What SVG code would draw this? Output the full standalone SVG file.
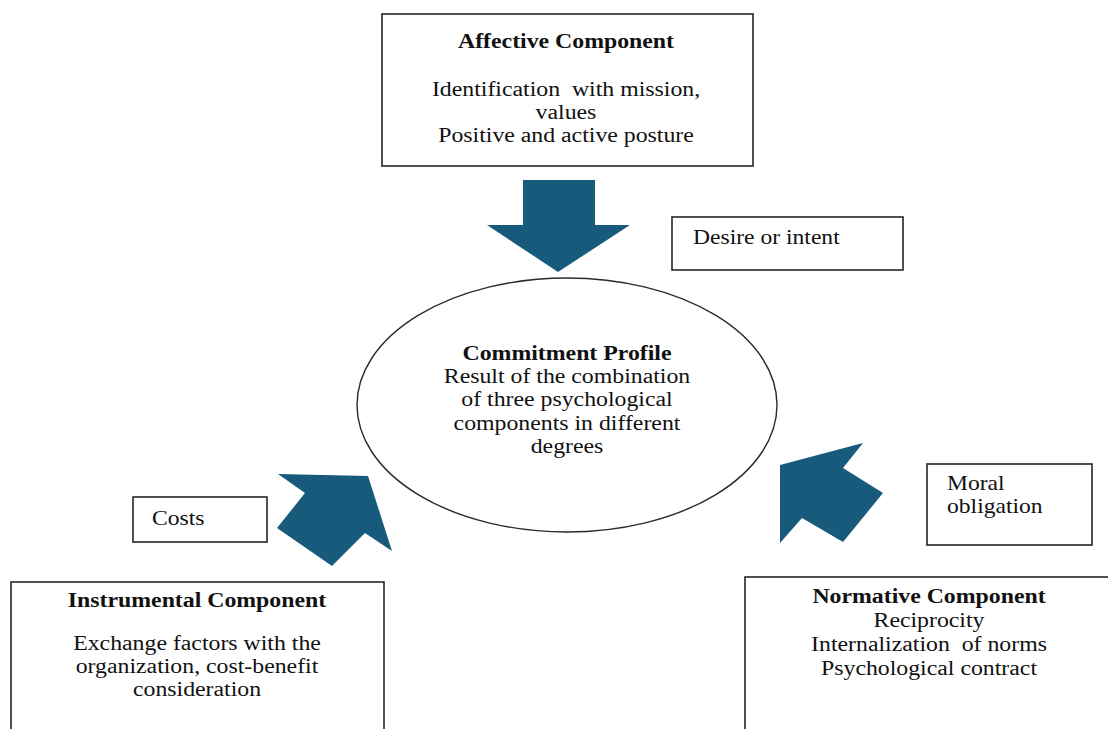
<svg xmlns="http://www.w3.org/2000/svg" width="1108" height="729" viewBox="0 0 1108 729">
<style>
.box{fill:#fff;stroke:#262626;stroke-width:1.6}
.ell{fill:#fff;stroke:#2a2a2a;stroke-width:1.4}
.arr{fill:#175a7c}
text{font-family:"Liberation Serif","Times New Roman",serif;font-size:20px;fill:#111;white-space:pre}
.t{font-weight:bold}
.c{text-anchor:middle}
</style>
<rect width="1108" height="729" fill="#fff"/>
<g id="connectors">
<polygon class="arr" points="523,180 595,180 595,225 630,225 558,272 487,225 523,225"/>
<polygon class="arr" points="368,476 392,551 365,533 332,566 277,528 305,493 278,474"/>
<polygon class="arr" points="780,465 863,443 843,468 883,493 843,542 802,518 780,543"/>
</g>
<g id="affective">
<rect class="box" x="382" y="14" width="371" height="152"/>
<g transform="translate(566,0) scale(1.19,1)">
<text class="t c" x="0" y="48">Affective Component</text>
<text class="c" x="0" y="96" xml:space="preserve">Identification  with mission,</text>
<text class="c" x="0" y="119">values</text>
<text class="c" x="0" y="142">Positive and active posture</text>
</g>
</g>
<g id="desire">
<rect class="box" x="672" y="217" width="231" height="53"/>
<text transform="translate(693,244) scale(1.18,1)">Desire or intent</text>
</g>
<g id="commitment">
<ellipse class="ell" cx="567" cy="405" rx="210" ry="127"/>
<g transform="translate(567,0) scale(1.19,1)">
<text class="t c" x="0" y="360">Commitment Profile</text>
<text class="c" x="0" y="383">Result of the combination</text>
<text class="c" x="0" y="406">of three psychological</text>
<text class="c" x="0" y="430">components in different</text>
<text class="c" x="0" y="453">degrees</text>
</g>
</g>
<g id="costs">
<rect class="box" x="133" y="497" width="134" height="45"/>
<text transform="translate(152,525) scale(1.18,1)">Costs</text>
</g>
<g id="moral">
<rect class="box" x="927" y="464" width="165" height="81"/>
<text transform="translate(947,490) scale(1.18,1)">Moral</text>
<text transform="translate(947,513) scale(1.18,1)">obligation</text>
</g>
<g id="instrumental">
<rect class="box" x="11" y="582" width="373" height="160"/>
<g transform="translate(197,0) scale(1.19,1)">
<text class="t c" x="0" y="607">Instrumental Component</text>
<text class="c" x="0" y="650">Exchange factors with the</text>
<text class="c" x="0" y="673">organization, cost-benefit</text>
<text class="c" x="0" y="696">consideration</text>
</g>
</g>
<g id="normative">
<rect class="box" x="745" y="577" width="380" height="160"/>
<g transform="translate(929,0) scale(1.19,1)">
<text class="t c" x="0" y="603">Normative Component</text>
<text class="c" x="0" y="627">Reciprocity</text>
<text class="c" x="0" y="651" xml:space="preserve">Internalization  of norms</text>
<text class="c" x="0" y="675">Psychological contract</text>
</g>
</g>
</svg>
